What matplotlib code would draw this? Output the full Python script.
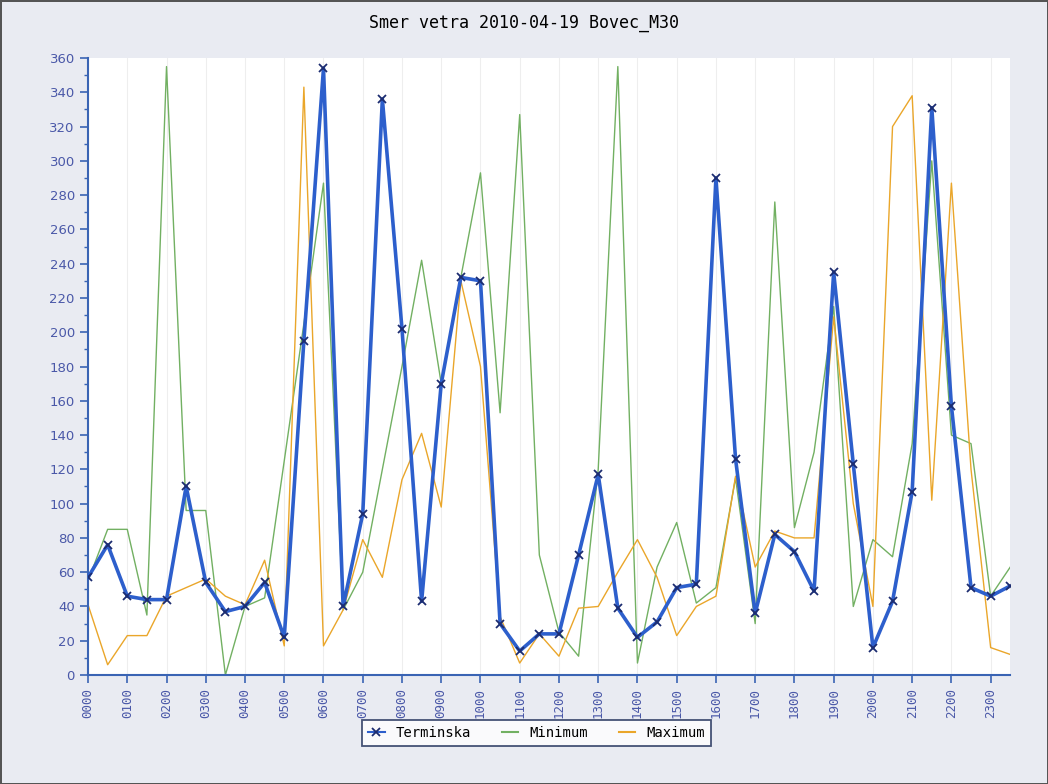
import matplotlib
matplotlib.use("Agg")
import matplotlib.pyplot as plt
from matplotlib.ticker import MultipleLocator

# half-hour terms 0000 .. 2330
times = [f"{h:02d}{m:02d}" for h in range(24) for m in (0, 30)]
hour_labels = [f"{h:02d}00" for h in range(24)]

terminska = [57, 76, 46, 44, 44, 110, 54, 37, 40, 54,
             22, 195, 354, 40, 94, 336, 202, 43, 170, 232,
             230, 30, 14, 24, 24, 70, 117, 39, 22, 31,
             51, 53, 290, 126, 36, 82, 72, 49, 235, 123,
             16, 43, 107, 331, 157, 51, 46, 52]

minimum = [55, 85, 85, 35, 355, 96, 96, 0, 40, 45,
           125, 205, 287, 38, 60, 120, 180, 242, 170, 232,
           293, 153, 327, 70, 25, 11, 120, 355, 7, 63,
           89, 42, 51, 115, 30, 276, 86, 130, 215, 40,
           79, 69, 135, 300, 140, 135, 46, 63]

maximum = [41, 6, 23, 23, 46, 51, 56, 46, 41, 67,
           17, 343, 17, 38, 79, 57, 114, 141, 98, 230,
           180, 34, 7, 24, 11, 39, 40, 60, 79, 57,
           23, 40, 46, 116, 63, 84, 80, 80, 209, 100,
           40, 320, 338, 102, 287, 120, 16, 12]

bg = "#e9ebf2"
axis_blue = "#3a64b4"
label_blue = "#4a58a8"

fig = plt.figure(figsize=(10.48, 7.84), dpi=100, facecolor=bg)
ax = fig.add_axes([0.084, 0.139, 0.880, 0.787])
ax.set_facecolor("white")

x = list(range(len(times)))

ax.plot(x, minimum, color="#72b062", linewidth=1.0, label="Minimum", zorder=2)
ax.plot(x, maximum, color="#eaa62a", linewidth=1.0, label="Maximum", zorder=2)
ax.plot(x, terminska, color="#2d5fcc", linewidth=2.6, marker="x",
        markersize=6, markeredgecolor="#1c2c70", markeredgewidth=1.3,
        label="Terminska", zorder=3)

ax.set_xlim(0, len(times) - 1)
ax.set_ylim(0, 360)
ax.set_xticks(list(range(0, len(times), 2)))
ax.set_xticklabels(hour_labels, rotation=90, family="DejaVu Sans Mono",
                   fontsize=9, color=label_blue)
ax.yaxis.set_major_locator(MultipleLocator(20))
ax.yaxis.set_minor_locator(MultipleLocator(10))
for t in ax.get_yticklabels():
    t.set_color(label_blue)
    t.set_fontsize(9.5)

ax.tick_params(axis="both", which="major", length=6, color=axis_blue, width=1.2)
ax.tick_params(axis="y", which="minor", length=3, color=axis_blue, width=1.0)

ax.grid(axis="x", color="#eeeeee", linewidth=0.8)
ax.set_axisbelow(True)

for side in ("top", "right"):
    ax.spines[side].set_visible(False)
for side in ("left", "bottom"):
    ax.spines[side].set_color(axis_blue)
    ax.spines[side].set_linewidth(1.5)

fig.suptitle("Smer vetra 2010-04-19 Bovec_M30", y=0.982,
             family="DejaVu Sans Mono", fontsize=12)

handles, labels = ax.get_legend_handles_labels()
order = [2, 0, 1]
leg = fig.legend([handles[i] for i in order], [labels[i] for i in order],
                 loc="center", bbox_to_anchor=(0.512, 0.065), ncol=3,
                 frameon=True, fancybox=False, handlelength=1.2,
                 prop={"family": "DejaVu Sans Mono", "size": 10},
                 columnspacing=2.2)
leg.get_frame().set_edgecolor("#1a2a55")
leg.get_frame().set_linewidth(1.3)
leg.get_frame().set_facecolor("white")
for line in leg.get_lines():
    line.set_linewidth(1.5)

fig.patch.set_edgecolor("#555555")
fig.patch.set_linewidth(1)

fig.savefig("out.png", dpi=100, facecolor=fig.get_facecolor(),
            edgecolor=fig.get_edgecolor())
